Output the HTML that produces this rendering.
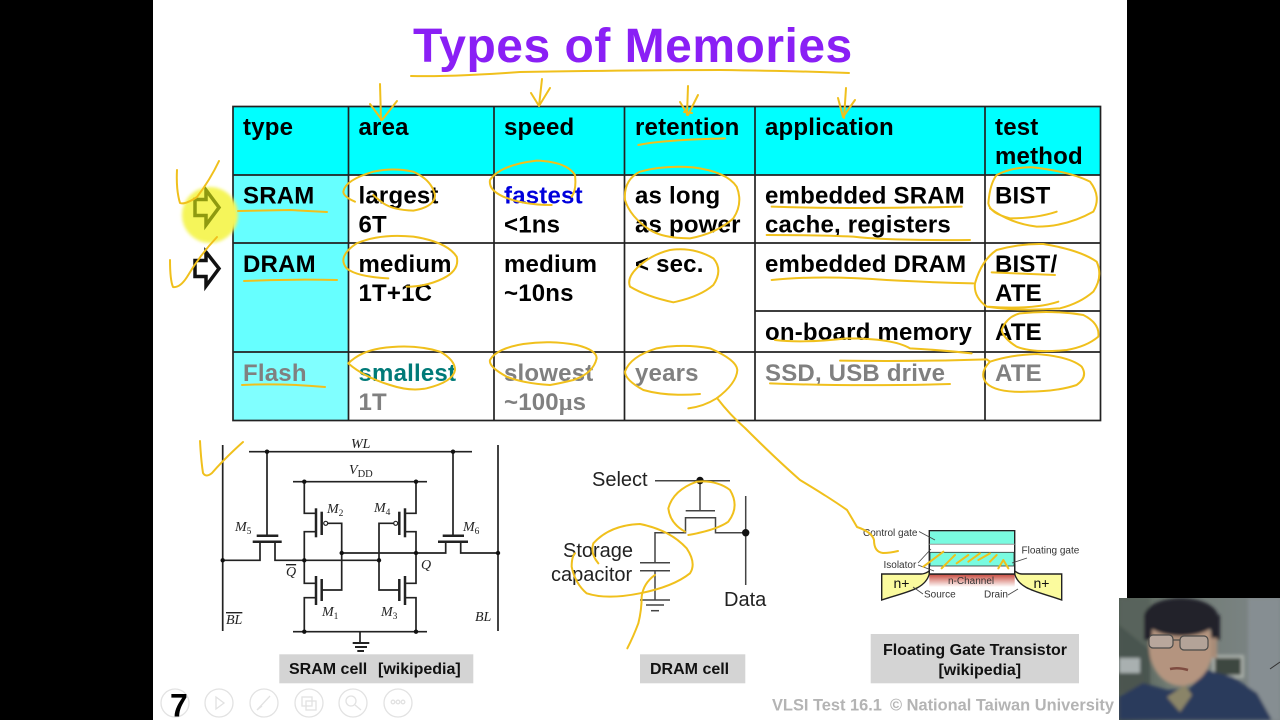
<!DOCTYPE html>
<html><head><meta charset="utf-8"><style>
html,body{margin:0;padding:0;background:#000;width:1280px;height:720px;overflow:hidden}
svg{display:block}
text{font-family:"Liberation Sans",sans-serif}
.t text{font-size:24px;font-weight:bold;fill:#000;letter-spacing:.2px}
.g{fill:#808080 !important}
.c line,.c polyline,.c rect.l{stroke:#222;stroke-width:1.7;fill:none}
.s text{font-family:"Liberation Serif",serif;font-style:italic;font-size:14px;fill:#222}
.d line,.d polyline{stroke:#444;stroke-width:1.5;fill:none}
.d text{font-size:20px;fill:#222}
.f text{font-size:10px;fill:#333}
.cap{font-size:16px;font-weight:bold;fill:#111}
.y{fill:none;stroke:#f0c01e;stroke-width:6;stroke-linecap:round;stroke-linejoin:round}
.y2{fill:none;stroke:#f0c01e;stroke-width:2;stroke-linecap:round;stroke-linejoin:round}
</style></head><body>
<svg width="1280" height="720" viewBox="0 0 1280 720" xmlns="http://www.w3.org/2000/svg">
<defs>
<linearGradient id="red" x1="0" y1="0" x2="0" y2="1"><stop offset="0" stop-color="#c8483c"/><stop offset="1" stop-color="#fff"/></linearGradient>
<linearGradient id="wall" x1="0" y1="0" x2="1" y2="0"><stop offset="0" stop-color="#4d5850"/><stop offset=".3" stop-color="#6f7a72"/><stop offset="1" stop-color="#7e8688"/></linearGradient>
<filter id="b"><feGaussianBlur stdDeviation="1.6"/></filter>
<filter id="b2"><feGaussianBlur stdDeviation=".35"/></filter>
<clipPath id="cam"><rect x="1119" y="598" width="161" height="122"/></clipPath>
</defs>
<rect width="1280" height="720" fill="#000"/>
<rect x="153" y="0" width="974" height="720" fill="#fff"/>

<text x="413" y="62" font-size="48" font-weight="bold" fill="#8a1ff5" letter-spacing=".5">Types of Memories</text>

<!-- table fills -->
<rect x="233" y="106.5" width="867.5" height="68.5" fill="#0ff"/>
<rect x="233" y="175" width="115.5" height="177" fill="#66ffff"/>
<rect x="233" y="352" width="115.5" height="68.5" fill="#80ffff"/>
<g stroke="#222" stroke-width="1.7" fill="none">
<rect x="233" y="106.5" width="867.5" height="314"/>
<line x1="348.5" y1="106.5" x2="348.5" y2="420.5"/>
<line x1="494" y1="106.5" x2="494" y2="420.5"/>
<line x1="624.5" y1="106.5" x2="624.5" y2="420.5"/>
<line x1="755" y1="106.5" x2="755" y2="420.5"/>
<line x1="985" y1="106.5" x2="985" y2="420.5"/>
<line x1="233" y1="175" x2="1100.5" y2="175"/>
<line x1="233" y1="243" x2="1100.5" y2="243"/>
<line x1="755" y1="311" x2="1100.5" y2="311"/>
<line x1="233" y1="352" x2="1100.5" y2="352"/>
</g>
<g class="t">
<text x="243" y="135">type</text><text x="358.500" y="135">area</text><text x="504" y="135">speed</text><text x="635" y="135">retention</text><text x="765" y="135">application</text><text x="995" y="135">test</text><text x="995" y="164">method</text>
<text x="243" y="203.500">SRAM</text><text x="358.500" y="203.500">largest</text><text x="358.500" y="232.500">6T</text>
<text x="504" y="203.500" style="fill:#0000dc">fastest</text><text x="504" y="232.500">&lt;1ns</text>
<text x="635" y="203.500">as long</text><text x="635" y="232.500">as power</text>
<text x="765" y="203.500">embedded SRAM</text><text x="765" y="232.500">cache, registers</text><text x="995" y="203.500">BIST</text>
<text x="243" y="272">DRAM</text><text x="358.500" y="272">medium</text><text x="358.500" y="301">1T+1C</text>
<text x="504" y="272">medium</text><text x="504" y="301">~10ns</text><text x="635" y="272">&lt; sec.</text>
<text x="765" y="272">embedded DRAM</text><text x="995" y="272">BIST/</text><text x="995" y="301">ATE</text>
<text x="765" y="340">on-board memory</text><text x="995" y="340">ATE</text>
<text x="243" y="381" class="g">Flash</text><text x="358.500" y="381" style="fill:#007a78">smallest</text><text x="358.500" y="410" class="g">1T</text>
<text x="504" y="381" class="g">slowest</text><text x="504" y="410" class="g">~100<tspan font-family="Liberation Serif">μ</tspan>s</text>
<text x="635" y="381" class="g">years</text><text x="765" y="381" class="g">SSD, USB drive</text><text x="995" y="381" class="g">ATE</text>
</g>

<!-- highlight + arrows -->
<circle cx="210" cy="215" r="28" fill="#f5f55a" filter="url(#b)"/>
<polygon points="195,199.500 206,199.500 206,190 219,207.500 206,225 206,215.500 195,215.500" fill="none" stroke="#8f9a10" stroke-width="3.500"/>
<polygon points="195,260.500 206,260.500 206,252 219,268.500 206,286 206,276.500 195,276.500" fill="none" stroke="#111" stroke-width="3.500"/>

<!-- SRAM circuit -->
<g class="c">
<line x1="222.700" y1="445" x2="222.700" y2="631"/><line x1="498" y1="445" x2="498" y2="631"/>
<line x1="249" y1="451.700" x2="472" y2="451.700"/>
<line x1="293" y1="481.700" x2="427" y2="481.700"/>
<line x1="293" y1="631.700" x2="427" y2="631.700"/>
<line x1="360" y1="632" x2="360" y2="642"/>
<line x1="267" y1="452" x2="267" y2="535"/><line x1="453" y1="452" x2="453" y2="535"/>
<polyline points="222.700,560.300 260,560.300 260,541.700"/><polyline points="275,541.700 275,560.300 379,560.300"/>
<polyline points="341.700,553 445.700,553 445.700,541.700"/><polyline points="460.700,541.700 460.700,553 498,553"/>
<polyline points="304.300,482 304.300,513.300 316,513.300"/><polyline points="316,531.700 304.300,531.700 304.300,583.300 316,583.300"/>
<polyline points="316,597.700 304.300,597.700 304.300,632"/>
<polyline points="416,482 416,513.300 405,513.300"/><polyline points="405,531.700 416,531.700 416,583.300 405,583.300"/>
<polyline points="405,597.700 416,597.700 416,632"/>
<polyline points="327.700,523.300 341.700,523.300 341.700,590 322,590"/>
<polyline points="393.500,523.300 379,523.300 379,590 399,590"/>
</g>
<g stroke="#222" fill="none">
<line x1="256.700" y1="535.700" x2="278.300" y2="535.700" stroke-width="2.500"/><line x1="252.700" y1="541.700" x2="281.700" y2="541.700" stroke-width="2.500"/>
<line x1="442.700" y1="535.700" x2="464" y2="535.700" stroke-width="2.500"/><line x1="438" y1="541.700" x2="468" y2="541.700" stroke-width="2.500"/>
<line x1="316" y1="508.300" x2="316" y2="537.300" stroke-width="2.500"/><line x1="321.700" y1="511.700" x2="321.700" y2="535" stroke-width="2.500"/>
<line x1="316" y1="576" x2="316" y2="605" stroke-width="2.500"/><line x1="321.700" y1="579" x2="321.700" y2="601" stroke-width="2.500"/>
<line x1="405" y1="508.300" x2="405" y2="537.300" stroke-width="2.500"/><line x1="399.300" y1="511.700" x2="399.300" y2="535" stroke-width="2.500"/>
<line x1="405" y1="576" x2="405" y2="605" stroke-width="2.500"/><line x1="399.300" y1="579" x2="399.300" y2="601" stroke-width="2.500"/>
<line x1="352.700" y1="643" x2="369.300" y2="643" stroke-width="2"/><line x1="355" y1="647" x2="367" y2="647" stroke-width="2"/><line x1="357.300" y1="651" x2="364" y2="651" stroke-width="2"/>
<circle cx="325.700" cy="523.300" r="2" stroke-width="1.200" fill="#fff"/><circle cx="395.700" cy="523.300" r="2" stroke-width="1.200" fill="#fff"/>
</g>
<g fill="#111">
<circle cx="267" cy="451.700" r="2.200"/><circle cx="453" cy="451.700" r="2.200"/>
<circle cx="304.300" cy="481.700" r="2.200"/><circle cx="416" cy="481.700" r="2.200"/>
<circle cx="304.300" cy="631.700" r="2.200"/><circle cx="416" cy="631.700" r="2.200"/>
<circle cx="222.700" cy="560.300" r="2.200"/><circle cx="304.300" cy="560.300" r="2.200"/><circle cx="379" cy="560.300" r="2.200"/>
<circle cx="341.700" cy="553" r="2.200"/><circle cx="416" cy="553" r="2.200"/><circle cx="498" cy="553" r="2.200"/>
</g>
<g class="s">
<text x="351" y="448">WL</text>
<text x="349" y="474">V<tspan font-style="normal" font-size="10.500" dy="3">DD</tspan></text>
<text x="235" y="531">M<tspan font-style="normal" font-size="9.500" dy="3">5</tspan></text>
<text x="327" y="513">M<tspan font-style="normal" font-size="9.500" dy="3">2</tspan></text>
<text x="374" y="512">M<tspan font-style="normal" font-size="9.500" dy="3">4</tspan></text>
<text x="463" y="531">M<tspan font-style="normal" font-size="9.500" dy="3">6</tspan></text>
<text x="322" y="616">M<tspan font-style="normal" font-size="9.500" dy="3">1</tspan></text>
<text x="381" y="616">M<tspan font-style="normal" font-size="9.500" dy="3">3</tspan></text>
<text x="286" y="576" text-decoration="overline">Q</text><text x="421" y="569">Q</text>
<text x="226" y="624" text-decoration="overline">BL</text><text x="475" y="621">BL</text>
</g>
<rect x="279.300" y="654.300" width="194" height="29" fill="#d4d4d4"/>
<text x="289" y="674" class="cap">SRAM cell</text><text x="378" y="674" class="cap">[wikipedia]</text>

<!-- DRAM -->
<g class="d">
<line x1="655" y1="480.700" x2="730" y2="480.700"/><line x1="700" y1="481" x2="700" y2="510.700"/>
<line x1="685.700" y1="510.700" x2="715" y2="510.700"/>
<polyline points="655,562 655,532.700 685.500,532.700 685.500,517.700 715.500,517.700 715.500,532.700 745.700,532.700"/>
<line x1="745.700" y1="496" x2="745.700" y2="585"/>
<line x1="640" y1="562.700" x2="670" y2="562.700"/><line x1="640" y1="570.700" x2="670" y2="570.700"/>
<line x1="655" y1="570.700" x2="655" y2="600"/>
<line x1="640" y1="600" x2="670" y2="600"/><line x1="646" y1="605" x2="664" y2="605"/><line x1="651" y1="610.700" x2="659" y2="610.700"/>
<text x="592" y="486">Select</text><text x="563" y="557">Storage</text><text x="551" y="581">capacitor</text><text x="724" y="606">Data</text>
</g>
<circle cx="700" cy="480.500" r="3.700" fill="#111"/><circle cx="745.700" cy="532.700" r="3.700" fill="#111"/>
<rect x="640" y="654.300" width="105.300" height="29" fill="#d4d4d4"/>
<text x="650" y="674" class="cap">DRAM cell</text>

<!-- Floating gate -->
<rect x="929.300" y="574" width="85.400" height="13" fill="url(#red)"/>
<path d="M881.700 574 H921 C928 574 930 568 929.300 574 C925 590 905 592 881.700 600 Z" fill="#fbfb9e" stroke="#222" stroke-width="1.400"/>
<path d="M1061.700 574 H1022 C1016 574 1014 568 1014.700 574 C1019 590 1040 592 1061.700 600 Z" fill="#fbfb9e" stroke="#222" stroke-width="1.400"/>
<path d="M929.300 564 V574 H1014.700 V564" fill="#fff" stroke="#222" stroke-width="1.400"/>
<rect x="929.300" y="530.700" width="85.400" height="43.300" fill="#fff" stroke="#222" stroke-width="1.400"/>
<rect x="930" y="531.400" width="84" height="13" fill="#79fbe0"/>
<line x1="929.300" y1="544.300" x2="1014.700" y2="544.300" stroke="#999"/>
<rect x="930" y="552.300" width="84" height="13.700" fill="#79fbe0" stroke="#333" stroke-width=".8"/>
<g class="f">
<text x="863" y="536">Control gate</text><text x="883.500" y="568">Isolator</text><text x="1021.500" y="553.500">Floating gate</text>
<text x="948" y="584">n-Channel</text><text x="924" y="597.500">Source</text><text x="984" y="597.500">Drain</text>
<text x="893.500" y="588" style="font-size:14px;fill:#111">n+</text><text x="1033.500" y="588" style="font-size:14px;fill:#111">n+</text>
</g>
<g stroke="#444" stroke-width=".8" fill="none">
<line x1="919" y1="531.500" x2="935" y2="540"/><line x1="918" y1="563" x2="931" y2="549"/><line x1="918" y1="565" x2="934" y2="571"/>
<line x1="1027" y1="558" x2="1012" y2="563"/><line x1="913" y1="587" x2="923" y2="594"/><line x1="1008" y1="595" x2="1018" y2="589"/>
</g>
<rect x="870.700" y="634" width="208.300" height="49.300" fill="#d4d4d4"/>
<text x="975" y="655" text-anchor="middle" class="cap">Floating Gate Transistor</text>
<text x="979.800" y="675" text-anchor="middle" class="cap">[wikipedia]</text>

<!-- toolbar -->
<g fill="none" stroke="#e2e2e2" stroke-width="1.300">
<circle cx="175" cy="703" r="14"/><circle cx="219" cy="703" r="14"/><circle cx="264" cy="703" r="14"/><circle cx="309" cy="703" r="14"/><circle cx="353" cy="703" r="14"/><circle cx="398" cy="703" r="14"/>
<path d="M216 697 L224 703 L216 709 Z"/><path d="M257 710 L270 696 M257 710 L262 706"/><rect x="302" y="697" width="10" height="9"/><rect x="306" y="701" width="10" height="9"/><circle cx="351" cy="701" r="5"/><path d="M355 705 L361 710"/><circle cx="393" cy="702" r="1.800"/><circle cx="398" cy="702" r="1.800"/><circle cx="403" cy="702" r="1.800"/>
</g>
<text x="170" y="716.500" font-size="32" font-weight="bold" fill="#000">7</text>
<text x="772" y="710.500" font-size="16.400" font-weight="bold" fill="#b4b4b4">VLSI Test 16.1</text>
<text x="890" y="710.500" font-size="16.400" font-weight="bold" fill="#b4b4b4">© National Taiwan University</text>

<!-- webcam -->
<g clip-path="url(#cam)">
<rect x="1119" y="598" width="161" height="122" fill="url(#wall)"/>
<g filter="url(#b)">
<polygon points="1119,598 1150,598 1150,650 1119,625" fill="#59645c"/>
<polygon points="1119,625 1150,650 1150,690 1119,690" fill="#4a5550"/>
<rect x="1119" y="658" width="21" height="15" fill="#a9b0b0"/>
<rect x="1119" y="673" width="25" height="20" fill="#4b5450"/>
<rect x="1212" y="655" width="32" height="23" fill="#aab0aa"/><rect x="1215" y="658" width="26" height="17" fill="#3d4640"/>
<rect x="1248" y="598" width="32" height="122" fill="#868e92"/>
<path d="M1119 697 L1143 683 L1168 690 L1190 688 L1207 670 L1233 677 L1257 693 L1272 720 H1119 Z" fill="#2c3b5c"/>
<path d="M1167 697 L1185 685 L1192 695 L1180 712 Z" fill="#8a8468"/>
<ellipse cx="1181" cy="647" rx="32" ry="39" fill="#b4947f"/>
<ellipse cx="1181" cy="617" rx="37" ry="19" fill="#20202a"/>
<rect x="1144" y="615" width="8" height="25" fill="#20202a"/><rect x="1211" y="615" width="9" height="25" fill="#20202a"/>
<rect x="1211" y="638" width="6" height="20" fill="#a88c78"/>
</g>
<g fill="none" stroke="#4a4a48" stroke-width="1.200"><rect x="1149" y="635" width="24" height="13" rx="4" fill="#b8a79c"/><rect x="1180" y="636" width="28" height="14" rx="4" fill="#b3a398"/><path d="M1173 640 L1180 640"/></g>
<path d="M1170 669 Q1178 667 1188 670" stroke="#7e4b40" stroke-width="2.500" fill="none"/>
<line x1="1270" y1="669" x2="1280" y2="662" stroke="#333"/>
</g>

<!-- pen annotations -->
<g filter="url(#b2)">
<path class="y2" d="M411 76 Q450 77 520 72 Q640 70 720 70 Q800 71 849 73"/>
<path class="y2" d="M542 79 L539 106 M531 93 L539 106 L550 88"/>
<path class="y2" d="M380 84 L381 120 M370 104 L382 120 L397 101"/>
<path class="y2" d="M688 86 L687 115 M680 102 L688 115 L698 95 M684 112 L692 113"/>
<path class="y2" d="M846 88 L844 118 M838 98 L843 117 L855 100"/>
<path class="y2" d="M177 170 Q176 190 180 203 Q185 205 197 197 Q210 180 219 161"/>
<path class="y2" d="M170 260 Q170 280 173 287 Q180 288 187 277 Q200 255 217 237"/>
<path class="y2" d="M200 441 Q201 460 203 473 Q206 478 212 473 Q225 458 243 442"/>
<path class="y2" d="M238 211 L290 210 L327 212"/><path class="y2" d="M244 281 Q290 279 337 280"/><path class="y2" d="M242 385 Q280 383 325 387"/>

<g transform="translate(160 90) scale(.33333)">
<path class="y" d="M585 335 Q550 320 550 305 Q555 270 640 245 Q700 232 760 245 Q815 270 825 315 Q825 350 760 362 Q700 360 670 340 Q650 325 640 315"/>
<path class="y" d="M1175 345 Q1090 345 1030 320 Q985 300 990 270 Q1020 225 1130 212 Q1220 215 1245 255 Q1250 300 1235 320"/>
<path class="y" d="M685 565 Q590 560 560 535 Q530 500 590 460 Q660 430 760 440 Q860 455 890 500 Q900 540 850 565 Q800 590 740 590"/>
<path class="y" d="M565 820 Q600 785 660 775 Q760 760 840 785 Q885 810 885 840 Q880 875 800 895 Q750 905 690 885 Q610 860 565 820"/>
<path class="y" d="M1170 885 Q1090 880 1040 860 Q985 830 990 810 Q1010 775 1090 762 Q1170 750 1250 765 Q1310 780 1310 805 Q1300 850 1240 870 Q1200 880 1170 885"/>
</g>
<g transform="translate(620 90) scale(.33333)">
<path class="y" d="M55 165 Q120 150 315 145"/>
<path class="y" d="M15 330 Q10 270 60 245 Q130 225 220 232 Q320 245 350 290 Q370 340 340 385 Q290 430 210 445 Q130 445 90 420 Q30 380 15 330"/>
<path class="y" d="M50 535 Q20 565 30 590 Q80 620 160 637 Q240 620 280 585 Q310 540 280 505 Q220 470 150 480 Q90 495 50 535"/>
<path class="y" d="M240 912 Q140 920 70 900 Q15 870 15 845 Q30 800 110 775 Q190 760 270 775 Q350 810 352 840 Q350 880 290 925 Q250 950 205 955"/>
<path class="y" d="M1310 365 Q1250 385 1170 385 Q1110 370 1105 340 Q1110 280 1130 255 Q1180 230 1240 232 Q1350 245 1410 275 Q1445 320 1420 365 Q1340 410 1250 410 Q1170 400 1110 355"/>
<path class="y" d="M1315 635 Q1240 660 1100 650 Q1060 620 1065 580 Q1085 510 1130 480 Q1200 460 1270 462 Q1380 480 1430 515 Q1450 560 1420 605 Q1380 640 1320 655 Q1200 665 1100 650"/>
<path class="y" d="M1115 547 L1305 555"/>
<path class="y" d="M1145 720 Q1160 680 1200 670 Q1300 660 1390 675 Q1440 700 1435 740 Q1400 770 1340 780 Q1240 790 1190 770 Q1150 745 1145 720"/>
<path class="y" d="M1230 905 Q1130 910 1100 880 Q1075 850 1110 815 Q1170 795 1250 792 Q1350 800 1385 830 Q1405 860 1370 885 Q1310 905 1220 905"/>
<path class="y" d="M455 350 Q700 358 1025 350"/>
<path class="y" d="M440 435 Q600 435 700 440 Q800 452 1050 450"/>
<path class="y" d="M455 570 Q600 555 800 570 Q950 578 1060 580"/>
<path class="y" d="M465 750 Q550 760 680 745 Q820 745 870 775 Q960 780 1055 790"/>
<path class="y" d="M660 812 Q900 815 1100 808 L1110 815"/>
<path class="y" d="M450 880 Q700 890 990 882"/>
</g>
<path class="y2" d="M717 398 Q730 415 745 428 Q775 458 800 480 Q830 498 847 510 Q853 520 857 527 Q872 532 874 540 Q874 552 883 553 Q890 553 898 551"/>
<g transform="translate(520 440) scale(.33333)">
<path class="y" d="M505 285 Q590 270 625 245 Q660 200 630 150 Q590 120 530 125 Q460 150 445 205 Q450 250 495 275"/>
<path class="y" d="M235 370 Q210 340 220 310 Q270 255 360 252 Q450 270 500 325 Q530 370 510 400 Q460 440 360 460 Q260 480 200 460 Q165 430 155 380 Q155 350 165 340"/>
<path class="y" d="M405 405 Q370 430 365 470 Q365 510 355 550 Q340 590 322 625"/>
</g>
<g transform="translate(840 510) scale(.33333)">
<path class="y" d="M250 170 L310 125 M305 175 L345 135 M350 160 L385 135 M385 155 L420 130 M415 150 L450 130 M450 155 L470 135 M475 175 L490 150 M490 150 L505 175"/>
</g>
</g>
</svg>
</body></html>
